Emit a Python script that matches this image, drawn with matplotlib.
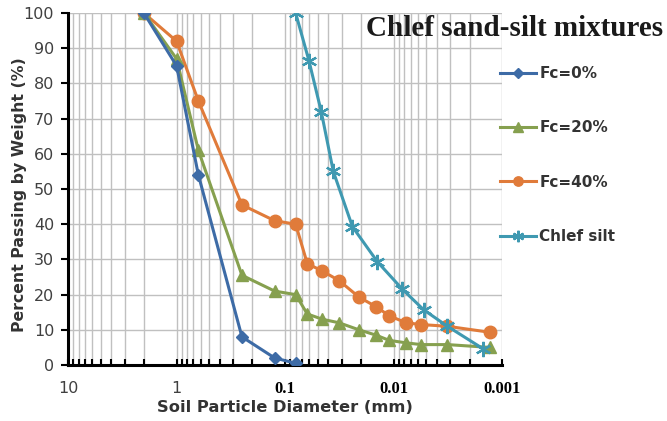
import numpy as np
import matplotlib.pyplot as plt
from matplotlib.ticker import LogLocator, NullFormatter, FixedLocator

# sieve / hydrometer diameters (mm) and percent passing
d_sand = [2.0, 1.0, 0.63, 0.25, 0.125, 0.08]
fc0 = [100, 85, 54, 8, 2, 0.5]

d_mix = [2.0, 1.0, 0.63, 0.25, 0.125, 0.08, 0.0625, 0.0454, 0.0319, 0.0209,
         0.0146, 0.011, 0.0077, 0.0056, 0.0032, 0.0013]
fc20 = [100, 87, 61, 25.5, 21, 20, 14.5, 13, 12, 10, 8.5, 7, 6.3, 5.8, 5.8, 5]
fc40 = [100, 92, 75, 45.5, 41, 40, 28.8, 26.7, 24, 19.3, 16.6, 14, 12, 11.5, 11, 9.3]

d_silt = [0.08, 0.0604, 0.0465, 0.036, 0.024, 0.0141, 0.0083, 0.0053, 0.0032, 0.0015]
silt = [100, 86.5, 72, 55, 39.3, 29.3, 21.5, 15.7, 11, 4.6]

xticks = [10, 1, 0.1, 0.01, 0.001]
xlabels = ["10", "1", "0.1", "0.01", "0.001"]

fig = plt.figure(figsize=(6.67, 4.21), dpi=100)
ax = fig.add_axes([0.102, 0.133, 0.651, 0.836])

lw = 2.2
ax.plot(d_sand, fc0, color="#3D6BA6", lw=lw, marker="D", ms=6.5, label="Fc=0%", zorder=5)
ax.plot(d_mix, fc20, color="#86A04F", lw=lw, marker="^", ms=9, label="Fc=20%", zorder=4)
ax.plot(d_mix, fc40, color="#E07B3A", lw=lw, marker="o", ms=9, label="Fc=40%", zorder=3)
ax.plot(d_silt, silt, color="#3F99B1", lw=lw, marker=(6, 2, 0), ms=11, mew=1.6,
        label="Chlef silt", zorder=6)

ax.set_xscale("log")
ax.set_xlim(10, 0.001)
ax.set_ylim(0, 100)
ax.set_yticks(np.arange(0, 101, 10))
ax.xaxis.set_major_locator(FixedLocator(xticks))
ax.xaxis.set_minor_locator(LogLocator(base=10, subs=np.arange(2, 10)))
ax.xaxis.set_minor_formatter(NullFormatter())
ax.set_xticklabels([])

ax.grid(True, which="both", axis="x", color="#C0C0C0", lw=1)
ax.grid(True, which="major", axis="y", color="#C0C0C0", lw=1)
ax.set_axisbelow(True)

for s in ["top", "right"]:
    ax.spines[s].set_visible(False)
ax.spines["left"].set_linewidth(2.2)
ax.spines["bottom"].set_linewidth(2.2)
ax.tick_params(axis="x", which="both", direction="in", length=4, width=1.5, color="black")
ax.tick_params(axis="y", which="major", direction="out", length=5, width=1.5,
               labelsize=11.5, labelcolor="#404040", pad=5)

# x tick labels (mixed fonts as in the original)
for v, lab in zip(xticks, xlabels):
    if v >= 1:
        ax.text(v, -4.5, lab, ha="center", va="top", fontsize=11.5, color="#404040")
    else:
        ax.text(v, -4.5, lab, ha="center", va="top", fontsize=12, fontweight="bold",
                family="Liberation Serif", color="black")

ax.set_xlabel("Soil Particle Diameter (mm)", fontsize=11.7, fontweight="bold",
              color="#333333", labelpad=22)
ax.set_ylabel("Percent Passing by Weight (%)", fontsize=11.3, fontweight="bold",
              color="#333333")
ax.yaxis.set_label_coords(-0.094, 0.485)

fig.text(0.994, 0.933, "Chlef sand-silt mixtures", ha="right", va="center",
         fontsize=21, fontweight="bold", family="Liberation Serif", color="#1a1a1a")

leg = ax.legend(loc="upper left", bbox_to_anchor=(0.740, 0.858),
                bbox_transform=fig.transFigure, frameon=False,
                labelspacing=2.58, handlelength=2.4, handletextpad=0.2,
                markerscale=0.75, prop={"size": 11, "weight": "bold"},
                borderaxespad=0)
for t in leg.get_texts():
    t.set_color("#333333")

fig.savefig("out.png", dpi=100)
